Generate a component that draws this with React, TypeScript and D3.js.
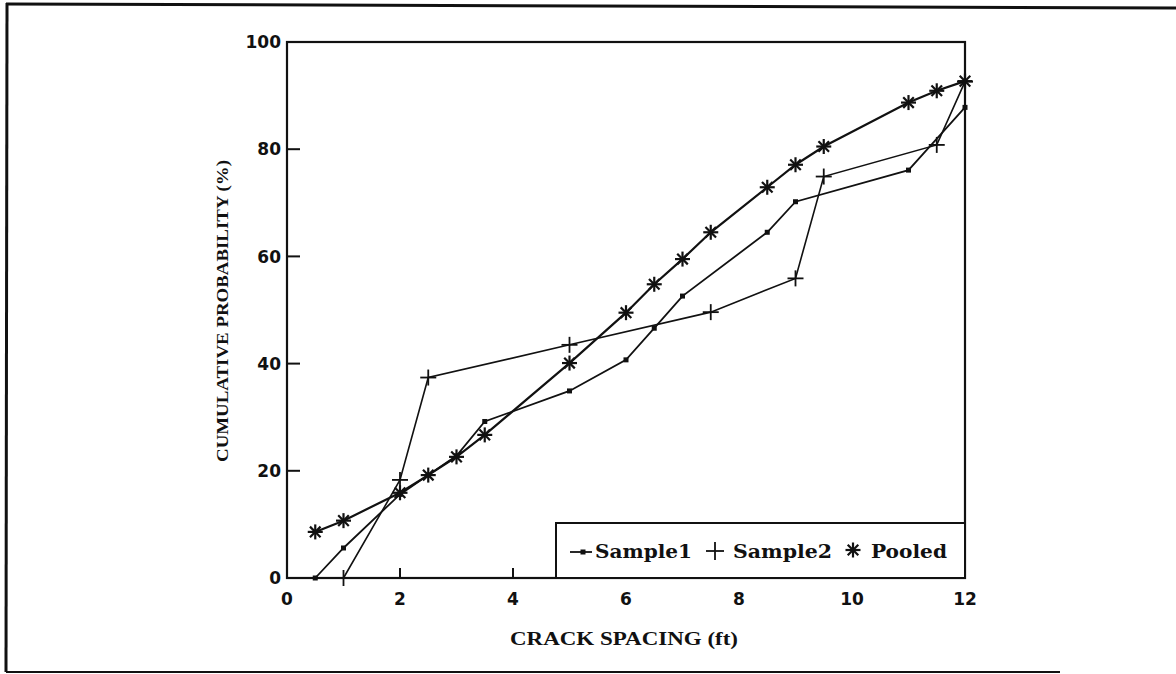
import * as d3 from 'd3'

const sample1X = [0.5, 1, 2, 2.5, 3, 3.5, 5, 6, 6.5, 7, 8.5, 9, 11, 12]
const sample1Y = [0, 5.6, 15.6, 19.2, 22.8, 29.2, 34.9, 40.7, 46.6, 52.6, 64.5, 70.2, 76.1, 87.8]

const sample2X = [1, 2, 2.5, 5, 7.5, 9, 9.5, 11.5, 12]
const sample2Y = [0, 18.3, 37.4, 43.5, 49.6, 55.9, 74.9, 80.8, 92.6]

const pooledX = [0.5, 1, 2, 2.5, 3, 3.5, 5, 6, 6.5, 7, 7.5, 8.5, 9, 9.5, 11, 11.5, 12]
const pooledY = [8.6, 10.7, 15.9, 19.2, 22.6, 26.7, 40.1, 49.5, 54.8, 59.5, 64.5, 72.9, 77.1, 80.5, 88.7, 90.9, 92.7]

const xTicks = [0, 2, 4, 6, 8, 10, 12]
const yTicks = [0, 20, 40, 60, 80, 100]

const W = 1176
const H = 674
const left = 287
const right = 965
const top = 42
const bottom = 578

const x = d3.scaleLinear().domain([0, 12]).range([left, right])
const y = d3.scaleLinear().domain([0, 100]).range([bottom, top])

const zip = (xs: number[], ys: number[]) => xs.map((v, i) => [v, ys[i]] as [number, number])
const line = d3
  .line<[number, number]>()
  .x((d) => x(d[0]))
  .y((d) => y(d[1]))

const ink = '#111'
const tickFont = '"DejaVu Sans", sans-serif'
const titleFont = '"Liberation Serif", serif'
const legendFont = '"DejaVu Serif", serif'

function Square({ cx, cy }: { cx: number; cy: number }) {
  return <rect x={cx - 2.5} y={cy - 2.5} width={5} height={5} fill={ink} />
}

function Plus({ cx, cy, r = 8 }: { cx: number; cy: number; r?: number }) {
  return (
    <g stroke={ink} strokeWidth={1.8}>
      <line x1={cx - r} x2={cx + r} y1={cy} y2={cy} />
      <line x1={cx} x2={cx} y1={cy - r} y2={cy + r} />
    </g>
  )
}

function Star({ cx, cy, r = 7.5 }: { cx: number; cy: number; r?: number }) {
  const d = r * Math.SQRT1_2
  return (
    <g stroke={ink} strokeWidth={2.2}>
      <line x1={cx - r} x2={cx + r} y1={cy} y2={cy} />
      <line x1={cx} x2={cx} y1={cy - r} y2={cy + r} />
      <line x1={cx - d} x2={cx + d} y1={cy - d} y2={cy + d} />
      <line x1={cx - d} x2={cx + d} y1={cy + d} y2={cy - d} />
    </g>
  )
}

export default function App() {
  const s1 = zip(sample1X, sample1Y)
  const s2 = zip(sample2X, sample2Y)
  const pl = zip(pooledX, pooledY)

  return (
    <svg
      width={W}
      height={H}
      style={{ position: 'fixed', left: 0, top: 0, background: '#fff' }}
      viewBox={`0 0 ${W} ${H}`}
    >
      <rect width={W} height={H} fill="#fff" />
      {/* outer page frame */}
      <g stroke={ink} strokeWidth={3} fill="none">
        <line x1={6} x2={1176} y1={4} y2={8} />
        <line x1={7} x2={6} y1={3} y2={672} />
        <line x1={6} x2={1060} y1={672} y2={672} strokeWidth={2} />
      </g>

      {/* plot frame */}
      <rect x={left} y={top} width={right - left} height={bottom - top} fill="none" stroke={ink} strokeWidth={2.2} />

      {/* y ticks */}
      {yTicks.map((t) => (
        <g key={`y${t}`}>
          {t > 0 && t < 100 && <line x1={left} x2={left + 13} y1={y(t)} y2={y(t)} stroke={ink} strokeWidth={2} />}
          <text
            x={left - 6}
            y={y(t)}
            dy="0.36em"
            textAnchor="end"
            fontFamily={tickFont}
            fontWeight="bold"
            fontSize={17}
            fill={ink}
          >
            {t}
          </text>
        </g>
      ))}

      {/* x ticks */}
      {xTicks.map((t) => (
        <g key={`x${t}`}>
          {t > 0 && t < 12 && <line x1={x(t)} x2={x(t)} y1={bottom} y2={bottom - 10} stroke={ink} strokeWidth={2} />}
          <text x={x(t)} y={bottom + 27} textAnchor="middle" fontFamily={tickFont} fontWeight="bold" fontSize={17} fill={ink}>
            {t}
          </text>
        </g>
      ))}

      {/* axis titles */}
      <text
        x={624}
        y={645}
        textAnchor="middle"
        fontFamily={titleFont}
        fontWeight="bold"
        fontSize={18}
        textLength={228}
        lengthAdjust="spacingAndGlyphs"
        fill={ink}
      >
        CRACK SPACING (ft)
      </text>
      <text
        transform={`translate(228,311) rotate(-90)`}
        textAnchor="middle"
        fontFamily={titleFont}
        fontWeight="bold"
        fontSize={17}
        textLength={302}
        lengthAdjust="spacingAndGlyphs"
        fill={ink}
      >
        CUMULATIVE PROBABILITY (%)
      </text>

      {/* series lines */}
      <path d={line(s1) ?? ''} fill="none" stroke={ink} strokeWidth={1.8} />
      <path d={line(s2) ?? ''} fill="none" stroke={ink} strokeWidth={1.6} />
      <path d={line(pl) ?? ''} fill="none" stroke={ink} strokeWidth={2.2} />

      {s1.map((d, i) => (
        <Square key={`s1${i}`} cx={x(d[0])} cy={y(d[1])} />
      ))}
      {s2.map((d, i) => (
        <Plus key={`s2${i}`} cx={x(d[0])} cy={y(d[1])} />
      ))}
      {pl.map((d, i) => (
        <Star key={`pl${i}`} cx={x(d[0])} cy={y(d[1])} />
      ))}

      {/* legend */}
      <rect x={556} y={523} width={right - 556} height={bottom - 523} fill="#fff" stroke={ink} strokeWidth={2} />
      <g fontFamily={legendFont} fontWeight="bold" fontSize={18} fill={ink}>
        <line x1={570} x2={592} y1={552} y2={552} stroke={ink} strokeWidth={1.8} />
        <Square cx={583} cy={552} />
        <text x={595} y={558} textLength={97} lengthAdjust="spacingAndGlyphs">
          Sample1
        </text>
        <Plus cx={715} cy={551} r={9} />
        <text x={733} y={558} textLength={99} lengthAdjust="spacingAndGlyphs">
          Sample2
        </text>
        <Star cx={853} cy={550} r={7.5} />
        <text x={871} y={558} textLength={76} lengthAdjust="spacingAndGlyphs">
          Pooled
        </text>
      </g>
    </svg>
  )
}
